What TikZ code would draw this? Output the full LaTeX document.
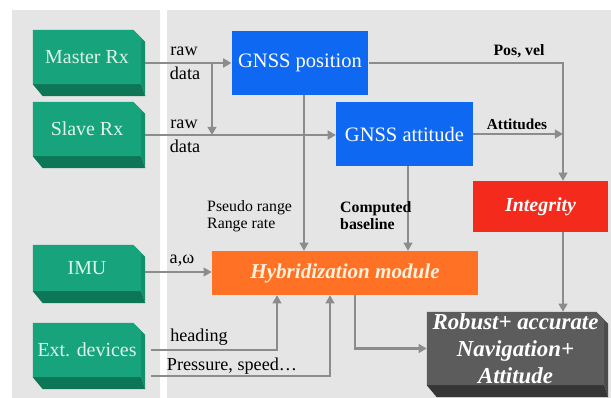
\documentclass[tikz,border=0pt]{standalone}
\usepackage{fontspec}
\setmainfont{Liberation Serif}
\usetikzlibrary{arrows.meta, positioning, calc, backgrounds}
\usepackage{xcolor}
\definecolor{rxgreen}{HTML}{17A47C}
\definecolor{rxside}{HTML}{12906C}
\definecolor{rxdark}{HTML}{0D7656}
\definecolor{rxtext}{HTML}{DDF4EA}
\definecolor{gnssblue}{HTML}{0F68F2}
\definecolor{hybrid}{HTML}{FF7226}
\definecolor{hybtext}{HTML}{FFF1DC}
\definecolor{integ}{HTML}{F42A1C}
\definecolor{navface}{HTML}{5C5C5C}
\definecolor{navside}{HTML}{4C4C4C}
\definecolor{navdark}{HTML}{363636}
\definecolor{wiregray}{HTML}{8C8C8C}
\definecolor{panelgray}{HTML}{E5E5E5}

\pgfdeclarelayer{panel}
\pgfsetlayers{panel,background,main}

\begin{document}
\begin{tikzpicture}[
    x=0.03cm, y=-0.03cm,
    >={Triangle[length=7pt, width=7.5pt]},
    rx/.style={
      minimum width=3.24cm, minimum height=1.62cm, inner sep=0pt,
      text=rxtext, font=\fontsize{17}{20}\selectfont},
    gnss/.style={
      fill=gnssblue, minimum width=4.1cm, minimum height=1.92cm,
      text=white, font=\fontsize{17.5}{20}\selectfont},
    box/.style={
      inner sep=0pt, text=white,
      font=\fontsize{17}{20}\selectfont\bfseries\itshape},
    lbl/.style={font=\fontsize{15.5}{17}\selectfont, inner sep=0pt},
    note/.style={font=\fontsize{13.5}{14.5}\selectfont, align=left, inner sep=0pt},
    link/.style={->, draw=wiregray, line width=2.4pt},
  ]

  \useasboundingbox (0,0) rectangle (611,398);

  % ── Panels ──
  \begin{pgfonlayer}{panel}
    \fill[white] (0,0) rectangle (611,398);
    \fill[panelgray] (12,10) rectangle (160,398);
    \fill[panelgray] (167,10) rectangle (611,398);
  \end{pgfonlayer}

  % ── Sensors ──
  \node[rx] (master) at (87,57) {Master Rx};
  \node[rx] (slave) at (87,129) {Slave Rx};
  \node[rx, minimum height=1.38cm] (imu) at (87,268) {IMU};
  \node[rx] (ext) at (87,350) {Ext. devices};

  % ── Processing blocks ──
  \node[gnss] (gnsspos) at (300,63) {GNSS position};
  \node[gnss] (gnssatt) at (404.5,134) {GNSS attitude};
  \node[box, fill=integ, minimum width=4.05cm, minimum height=1.53cm]
    (integrity) at (540.5,206.5) {Integrity};
  \node[box, fill=hybrid, minimum width=7.98cm, minimum height=1.32cm,
        text=hybtext, font=\fontsize{18}{20}\selectfont\bfseries\itshape]
    (hyb) at (345,273) {Hybridization module};
  \node[box, minimum width=5.31cm, minimum height=2.19cm, align=center,
        font=\fontsize{19.5}{23}\selectfont\bfseries\itshape]
    (nav) at (515.5,348.5) {Robust+ accurate\\Navigation+\\Attitude};

  % ── Block faces (front, side, bottom) ──
  \begin{pgfonlayer}{background}
    \foreach \n/\face/\side/\dark in {master/rxgreen/rxside/rxdark,
        slave/rxgreen/rxside/rxdark, imu/rxgreen/rxside/rxdark,
        ext/rxgreen/rxside/rxdark, nav/navface/navside/navdark}{
      \fill[\side] ($(\n.north east)+(-8,0)$) -- ($(\n.north east)+(4,12)$)
        -- ($(\n.south east)+(4,12)$) -- (\n.south east) -- cycle;
      \fill[\dark] (\n.south west) -- (\n.south east)
        -- ($(\n.south east)+(4,12)$) -- ($(\n.south west)+(10,12)$) -- cycle;
      \fill[\face] (\n.north west) -- ($(\n.north east)+(-8,0)$)
        -- ($(\n.north east)+(0,8)$) -- (\n.south east) -- (\n.south west) -- cycle;
    }
  \end{pgfonlayer}

  % ── Raw data from the receivers ──
  \coordinate (masterout) at ($(master.east)+(4,6)$);
  \coordinate (slaveout) at ($(slave.east)+(4,6)$);
  \coordinate (tap) at (212,63);
  \draw[link] (masterout) -- (masterout -| gnsspos.west);
  \draw[link] (slaveout) -- (slaveout -| gnssatt.west);
  \draw[link] (tap) -- (tap |- slaveout);
  \node[lbl, anchor=base] (raw1) at (184,56) {raw};
  \node[lbl, anchor=base] (data1) at (185,80) {data};
  \node[lbl, anchor=base] (raw2) at (184,129) {raw};
  \node[lbl, anchor=base] (data2) at (185,153) {data};

  % ── GNSS outputs ──
  \coordinate (bus) at (563,0);
  \draw[link] (gnsspos.east) -| (integrity.north -| bus);
  \draw[link] (gnssatt.east) -- (gnssatt.east -| bus);
  \draw[link] (integrity.south -| bus) -- (nav.north -| bus);
  \node[note, font=\fontsize{13.5}{14.5}\selectfont\bfseries] (posvel) at (519,51) {Pos, vel};
  \node[note, font=\fontsize{13}{14.5}\selectfont\bfseries] (atts) at (517,124) {Attitudes};

  \coordinate (posdown) at ($(gnsspos.south)+(4,0)$);
  \coordinate (attdown) at ($(gnssatt.south)+(3.5,0)$);
  \draw[link] (posdown) -- (posdown |- hyb.north);
  \draw[link] (attdown) -- (attdown |- hyb.north);
  \node[note, anchor=west] (pseudo) at (207,216) {Pseudo range\\Range rate};
  \node[note, anchor=west, font=\fontsize{13.5}{14.5}\selectfont\bfseries]
    (basel) at (340,216) {Computed\\baseline};

  % ── Inertial and external aiding ──
  \coordinate (imuout) at ($(imu.east)+(4,4)$);
  \draw[link] (imuout) -- (imuout -| hyb.west);
  \node[lbl] (accgyro) at (182,261) {a,ω};

  \draw[link] ($(ext.east)+(10,0)$) -| ($(hyb.south)+(-68,0)$);
  \draw[link] ($(ext.east)+(10,26)$) -| ($(hyb.south)+(-15,0)$);
  \node[lbl] (headlbl) at (199,337) {heading};
  \node[lbl] (presslbl) at (232,366) {Pressure, speed\ldots};

  % ── Hybrid solution ──
  \draw[link] ($(hyb.south)+(10,0)$) |- (nav.west);

\end{tikzpicture}
\end{document}
